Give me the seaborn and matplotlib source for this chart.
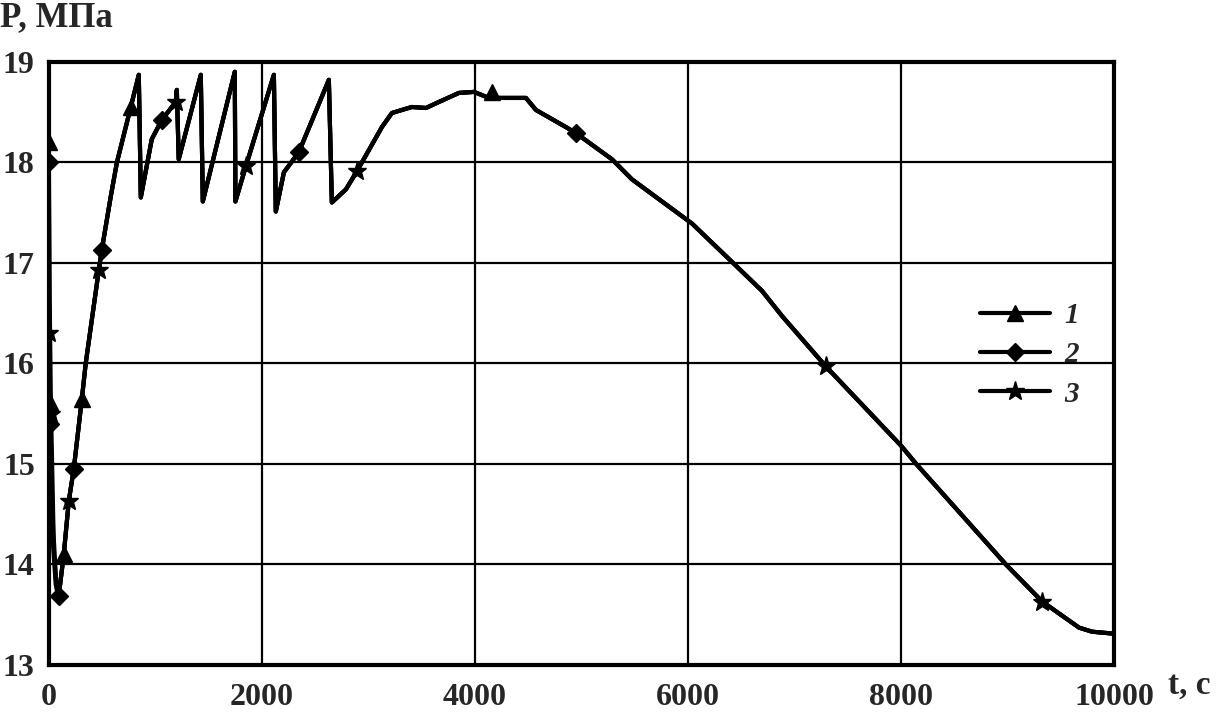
import numpy as np
import pandas as pd
import matplotlib
matplotlib.use('Agg')
import matplotlib.pyplot as plt
from matplotlib.lines import Line2D
from matplotlib.ticker import MultipleLocator
import seaborn as sns

# shared part of the pressure curve (all three runs coincide after ~100 s)
t_main = [94, 141, 188, 235, 310, 347, 470, 498, 582, 640, 770, 845, 864, 967, 1061,
          1192, 1202, 1220, 1427, 1446, 1746, 1752, 1850, 2113, 2131, 2207, 2347, 2629,
          2657, 2789, 2892, 3127, 3221, 3408, 3540, 3662, 3850, 3991, 4131, 4479, 4573,
          4854, 4948, 5286, 5474, 6038, 6441, 6695, 6883, 7293, 8000, 8141, 8983, 9324,
          9671, 9793, 10000]
p_main = [13.69, 14.10, 14.63, 14.95, 15.64, 16.00, 16.93, 17.13, 17.66, 18.00, 18.55,
          18.87, 17.65, 18.23, 18.42, 18.60, 18.72, 18.03, 18.87, 17.61, 18.90, 17.61,
          17.96, 18.87, 17.51, 17.90, 18.10, 18.82, 17.60, 17.73, 17.91, 18.35, 18.49,
          18.55, 18.54, 18.60, 18.69, 18.70, 18.64, 18.64, 18.52, 18.35, 18.29, 18.03,
          17.83, 17.39, 16.98, 16.72, 16.47, 15.97, 15.18, 15.00, 14.00, 13.63, 13.37,
          13.33, 13.31]

# initial drop of each run
t_start1 = [0, 8, 20, 45, 70]
p_start1 = [18.2, 16.7, 15.6, 14.3, 13.8]
t_start2 = [0, 10, 25, 50, 75]
p_start2 = [18.0, 15.45, 14.8, 14.1, 13.75]
t_start3 = [0, 5, 18, 40, 65]
p_start3 = [16.3, 15.7, 15.3, 14.2, 13.8]

# marker positions
t_mark1 = [0, 20, 141, 310, 770, 4160]
p_mark1 = [18.2, 15.6, 14.10, 15.64, 18.55, 18.70]
t_mark2 = [0, 12, 94, 235, 498, 1061, 2347, 4948]
p_mark2 = [18.0, 15.4, 13.69, 14.95, 17.13, 18.42, 18.10, 18.29]
t_mark3 = [5, 18, 188, 470, 1192, 1850, 2892, 7293, 9324]
p_mark3 = [16.3, 15.5, 14.63, 16.93, 18.60, 17.96, 17.91, 15.97, 13.63]

labels = ['1', '2', '3']
markers = ['^', 'D', '*']
msizes = [11, 9, 14]

lines = pd.concat([
    pd.DataFrame({'t': t_start1 + t_main, 'P': p_start1 + p_main, 'run': '1'}),
    pd.DataFrame({'t': t_start2 + t_main, 'P': p_start2 + p_main, 'run': '2'}),
    pd.DataFrame({'t': t_start3 + t_main, 'P': p_start3 + p_main, 'run': '3'}),
])
marks = [(t_mark1, p_mark1), (t_mark2, p_mark2), (t_mark3, p_mark3)]

sns.set_style('white')
plt.rcParams['font.family'] = ['Liberation Serif', 'DejaVu Serif']
plt.rcParams['font.weight'] = 'bold'

fig = plt.figure(figsize=(12.19, 7.18), dpi=100)
ax = fig.add_axes([0.040, 0.074, 0.874, 0.840])

sns.lineplot(data=lines, x='t', y='P', hue='run', palette=['black'] * 3,
             sort=False, estimator=None, lw=3.0, legend=False, ax=ax, zorder=3)
for (tm, pm), mk, ms in zip(marks, markers, msizes):
    ax.plot(tm, pm, ls='none', marker=mk, ms=ms, color='black', zorder=4)

ax.set_xlim(0, 10000)
ax.set_ylim(13, 19)
ax.xaxis.set_major_locator(MultipleLocator(2000))
ax.yaxis.set_major_locator(MultipleLocator(1))
ax.xaxis.set_minor_locator(MultipleLocator(1000))
ax.yaxis.set_minor_locator(MultipleLocator(1 / 3))
ax.grid(True, which='major', color='black', lw=1.6)
ax.tick_params(which='major', length=0, labelsize=23)
ax.tick_params(axis='x', which='major', pad=13)
ax.tick_params(axis='y', which='major', pad=10)
ax.tick_params(which='minor', direction='in', length=7, width=2, color='black')
for lab in ax.get_xticklabels() + ax.get_yticklabels():
    lab.set_fontweight('bold')
for s in ax.spines.values():
    s.set_linewidth(3.0)
    s.set_color('black')
ax.set_xlabel('')
ax.set_ylabel('')

handles = [Line2D([], [], color='black', lw=3.0, marker=m, ms=s)
           for m, s in zip(markers, msizes)]
ax.legend(handles, labels, loc='center left', bbox_to_anchor=(0.86, 0.514),
          frameon=False, handlelength=2.4, handletextpad=0.5, labelspacing=0.42,
          borderpad=0, prop={'family': 'Liberation Serif', 'weight': 'bold',
                             'style': 'italic', 'size': 21})

fig.text(0.0, 0.975, 'P, МПа', fontsize=25, fontweight='bold', va='center', ha='left')
fig.text(0.958, 0.046, 't, с', fontsize=24, fontweight='bold', va='center', ha='left')

fig.savefig('out.png', dpi=100)
